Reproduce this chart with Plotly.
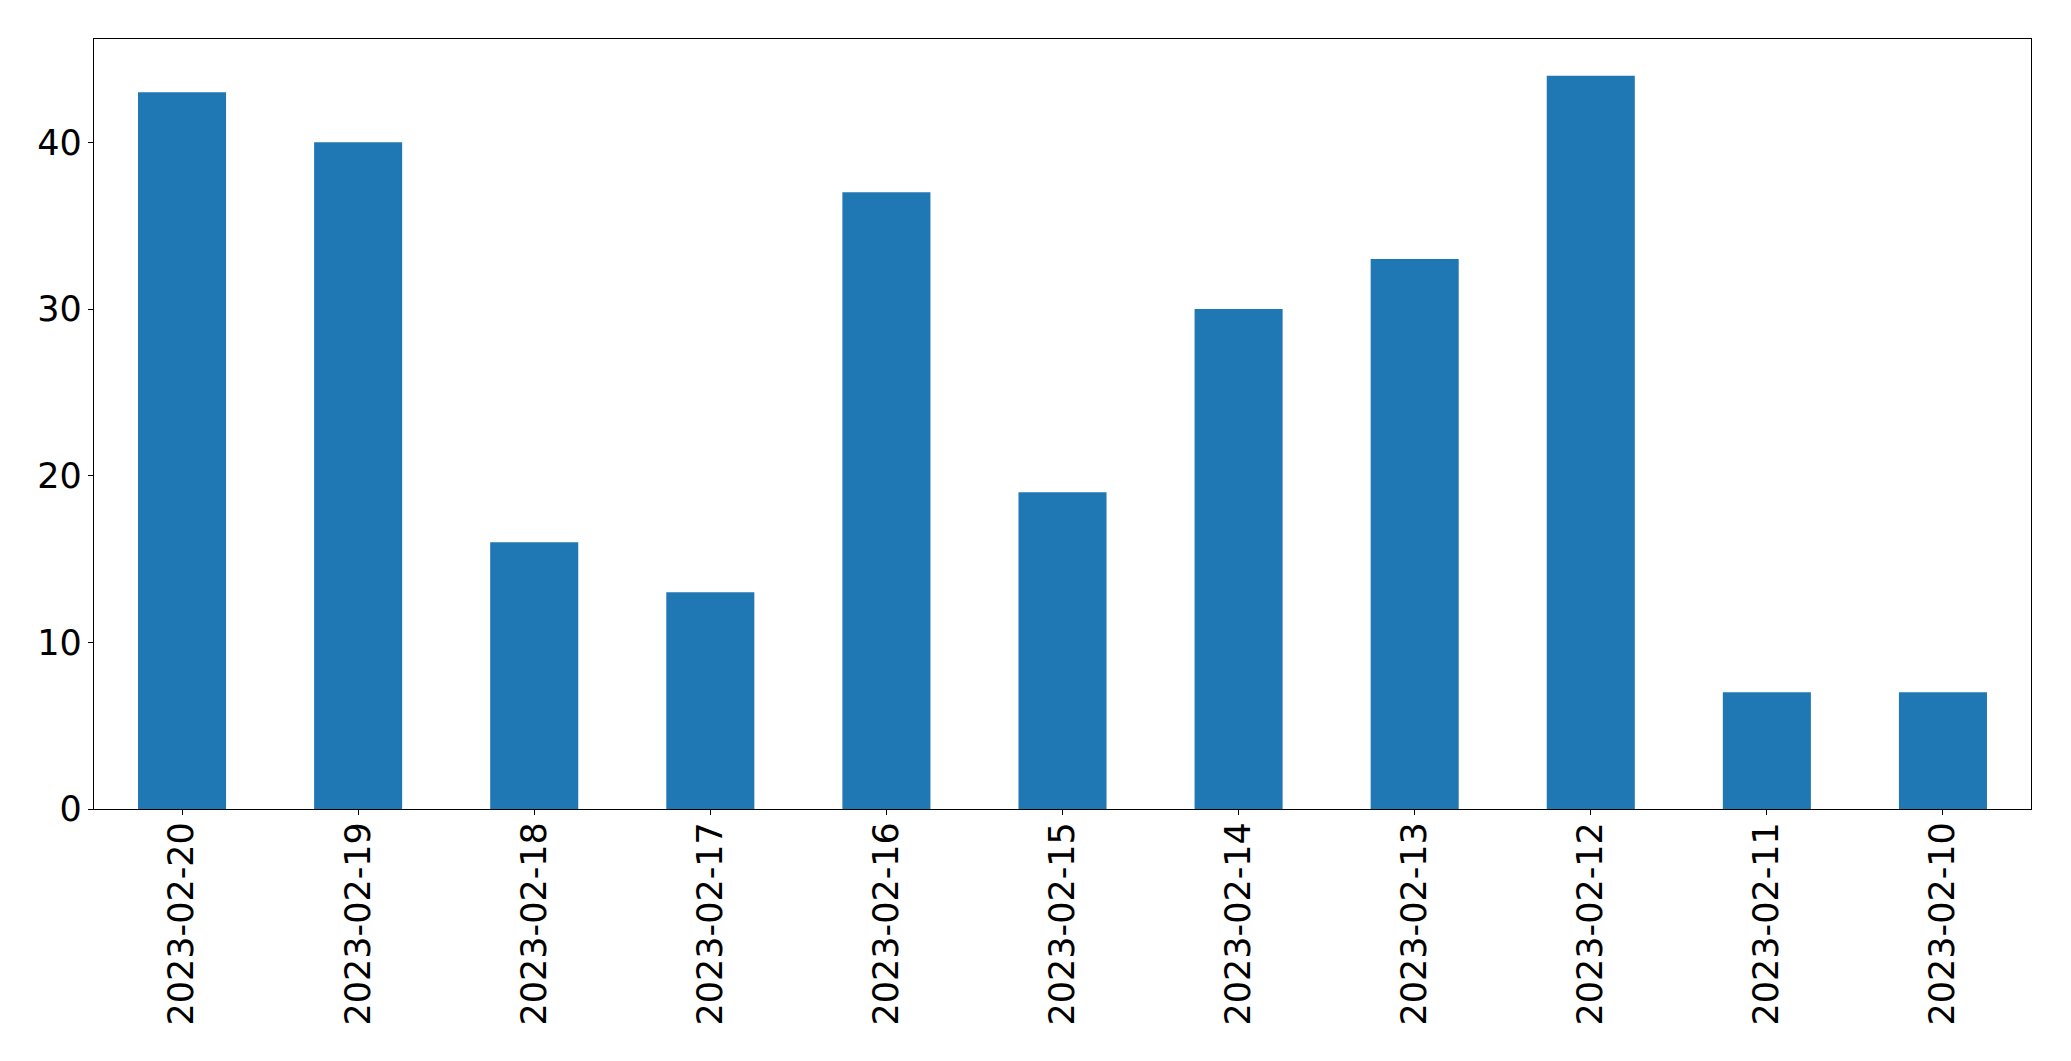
import plotly.graph_objects as go

dates = ["2023-02-20", "2023-02-19", "2023-02-18", "2023-02-17", "2023-02-16",
         "2023-02-15", "2023-02-14", "2023-02-13", "2023-02-12", "2023-02-11", "2023-02-10"]
counts = [43, 40, 16, 13, 37, 19, 30, 33, 44, 7, 7]
y_ticks = [0, 10, 20, 30, 40]

fig = go.Figure(go.Bar(
    x=list(range(len(dates))), y=counts, width=0.5,
    marker=dict(color="#1f77b4", line=dict(width=0)),
))

fig.update_layout(
    width=2071, height=1061,
    margin=dict(l=94, r=40, t=39, b=252),
    paper_bgcolor="white", plot_bgcolor="white",
    font=dict(family="DejaVu Sans", size=35, color="black"),
    showlegend=False,
)
fig.update_xaxes(
    range=[-0.5, len(dates) - 0.5],
    tickmode="array", tickvals=list(range(len(dates))), ticktext=dates,
    tickangle=-90, ticks="outside", ticklen=5, tickwidth=1.3, tickcolor="black",
    showline=True, linecolor="black", linewidth=1.3, mirror=True,
    showgrid=False, zeroline=False, ticklabelstandoff=-7,
)
fig.update_yaxes(
    range=[0, 46.2],
    tickmode="array", tickvals=y_ticks, ticktext=[str(v) for v in y_ticks],
    ticks="outside", ticklen=5, tickwidth=1.3, tickcolor="black",
    showline=True, linecolor="black", linewidth=1.3, mirror=True,
    showgrid=False, zeroline=False, ticklabelstandoff=-1,
)

fig.write_html("out.html", config={"displayModeBar": False},
               post_script="document.body.style.margin='0';document.body.style.padding='0';")
